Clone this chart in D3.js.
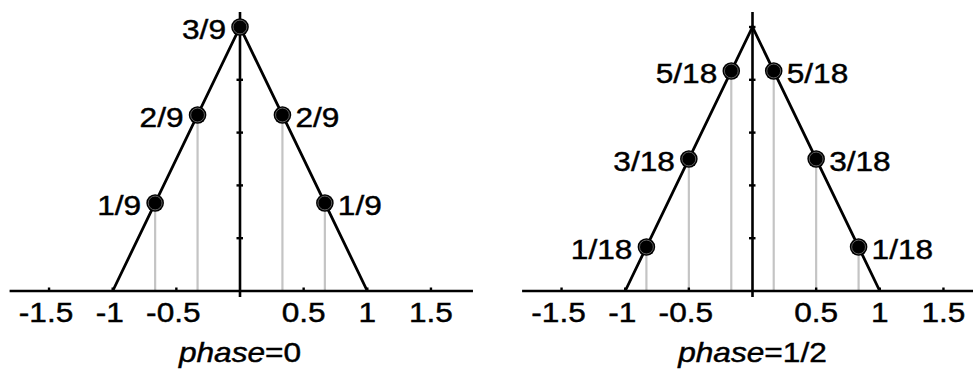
<!DOCTYPE html>
<html>
<head>
<meta charset="utf-8">
<script src="https://cdn.jsdelivr.net/npm/d3@7"></script>
<style>
  body { margin: 0; background: #fff; }
  svg { display: block; }
  text { font-family: "Liberation Sans", Arial, sans-serif; font-size: 28px; fill: #000; stroke: #000; stroke-width: 0.45px; }
</style>
</head>
<body>
<svg id="chart" width="973" height="369"></svg>
<script>
// Data
const tick_values = [-1.5, -1, -0.5, 0.5, 1, 1.5];
const tick_labels = ["-1.5", "-1", "-0.5", "0.5", "1", "1.5"];
const y_ticks = [1/15, 2/15, 3/15, 4/15, 5/15];

// triangle (tent) vertices
const tent_x = [-1, 0, 1];
const tent_y = [0, 1/3, 0];

const phase0_x = [-2/3, -1/3, 0, 1/3, 2/3];
const phase0_y = [1/9, 2/9, 3/9, 2/9, 1/9];
const phase0_labels = ["1/9", "2/9", "3/9", "2/9", "1/9"];

const phase_half_x = [-5/6, -1/2, -1/6, 1/6, 1/2, 5/6];
const phase_half_y = [1/18, 3/18, 5/18, 5/18, 3/18, 1/18];
const phase_half_labels = ["1/18", "3/18", "5/18", "5/18", "3/18", "1/18"];

const panels = [
    {origin: 240, xs: phase0_x, ys: phase0_y, labels: phase0_labels, title: "0"},
    {origin: 752.5, xs: phase_half_x, ys: phase_half_y, labels: phase_half_labels, title: "1/2"}
];

// Render params
const unit = 127.3;
const axis_y = 291;
const text_stretch = 1.13;

const svg = d3.select('#chart');

const y = d3.scaleLinear().domain([0, 1/3]).range([axis_y, 27]);

function stretched_text(g, x, yy, str, anchor) {
    return g.append('text')
        .attr('transform', `translate(${x}, ${yy}) scale(${text_stretch}, 1)`)
        .attr('text-anchor', anchor)
        .text(str);
}

panels.forEach(p => {
    const x = d3.scaleLinear()
        .domain([-1, 1])
        .range([p.origin - unit, p.origin + unit]);

    const g = svg.append('g');

    // gray drop lines
    p.xs.forEach((v, i) => {
        if (v === 0) return;
        g.append('line')
            .attr('x1', x(v)).attr('x2', x(v))
            .attr('y1', y(p.ys[i])).attr('y2', axis_y)
            .attr('stroke', '#c4c4c4')
            .attr('stroke-width', 2.2);
    });

    // x axis
    g.append('line')
        .attr('x1', x(-1.81)).attr('x2', x(1.83))
        .attr('y1', axis_y).attr('y2', axis_y)
        .attr('stroke', '#000').attr('stroke-width', 2.6);

    tick_values.forEach((v, i) => {
        g.append('line')
            .attr('x1', x(v)).attr('x2', x(v))
            .attr('y1', axis_y - 3.5).attr('y2', axis_y + 1)
            .attr('stroke', '#000').attr('stroke-width', 2.4);
        const dx = v < 0 ? -3 : 0;
        stretched_text(g, x(v) + dx, 322, tick_labels[i], 'middle');
    });

    // y axis
    g.append('line')
        .attr('x1', x(0)).attr('x2', x(0))
        .attr('y1', 12).attr('y2', axis_y + 6)
        .attr('stroke', '#000').attr('stroke-width', 2.6);

    y_ticks.forEach(t => {
        g.append('line')
            .attr('x1', x(0) - 3.5).attr('x2', x(0) + 3)
            .attr('y1', y(t)).attr('y2', y(t))
            .attr('stroke', '#000').attr('stroke-width', 2.4);
    });

    // tent
    const line = d3.line()
        .x((d, i) => x(tent_x[i]))
        .y(d => y(d));
    g.append('path')
        .attr('d', line(tent_y))
        .attr('fill', 'none')
        .attr('stroke', '#000')
        .attr('stroke-width', 2.8)
        .attr('stroke-linejoin', 'miter');

    // points
    p.xs.forEach((v, i) => {
        const cx = x(v), cy = y(p.ys[i]);
        g.append('circle')
            .attr('cx', cx).attr('cy', cy).attr('r', 8.8)
            .attr('fill', '#000');
        g.append('circle')
            .attr('cx', cx).attr('cy', cy).attr('r', 6.9)
            .attr('fill', 'none')
            .attr('stroke', '#777')
            .attr('stroke-width', 0.8);
        if (v <= 0) {
            stretched_text(g, cx - 14, cy + 11.5, p.labels[i], 'end');
        } else {
            stretched_text(g, cx + 13, cy + 11.5, p.labels[i], 'start');
        }
    });

    // title
    const title = g.append('text')
        .attr('transform', `translate(${x(0)}, 362) scale(${text_stretch}, 1)`)
        .attr('text-anchor', 'middle');
    title.append('tspan').attr('font-style', 'italic').text('phase');
    title.append('tspan').text('=' + p.title);
});
</script>
</body>
</html>
